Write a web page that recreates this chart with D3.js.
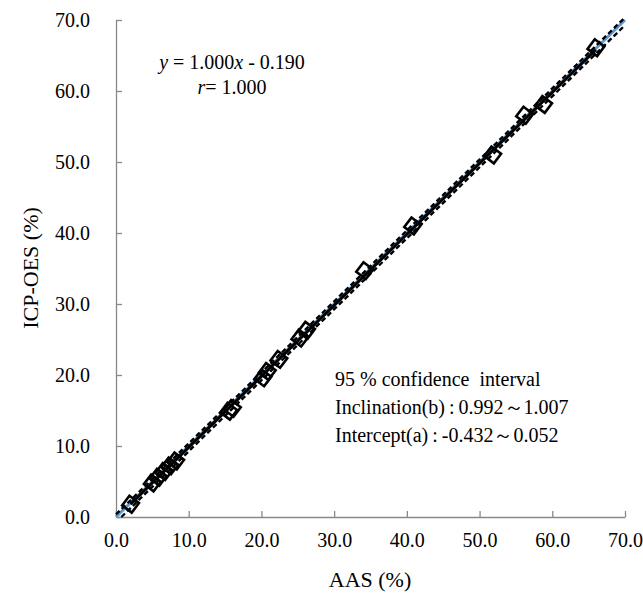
<!DOCTYPE html>
<html><head><meta charset="utf-8">
<script src="https://cdn.jsdelivr.net/npm/d3@7"></script>
<style>
body{margin:0}
svg text, svg tspan{font-family:'Liberation Serif' !important}
</style>
</head><body>
<script>
const aas = [2.0, 5.0, 5.8, 6.6, 7.4, 8.2, 15.5, 16.0, 20.2, 20.8, 22.4, 25.3, 26.2, 34.2, 40.8, 51.8, 56.2, 58.8, 66.0];
const icp = [1.8, 4.8, 5.6, 6.4, 7.2, 7.9, 14.9, 15.3, 19.6, 20.5, 22.2, 25.2, 26.3, 34.7, 41.0, 51.0, 56.6, 58.1, 66.1];
const tickValues = [0, 10, 20, 30, 40, 50, 60, 70];
const slope = 1.000, intercept = -0.190;
const bandOffsets = [-0.55, 0.55];
const annotation = ["95 % confidence  interval", "Inclination(b)\u2009:\u20090.992\uff5e1.007", "Intercept(a)\u2009:\u2009-0.432\uff5e0.052"];

const W = 643, H = 596;
const svg = d3.select("body").append("svg").attr("width", W).attr("height", H).style("display", "block");
const x = d3.scaleLinear().domain([0, 70]).range([116, 625]);
const y = d3.scaleLinear().domain([0, 70]).range([517, 20]);
const axisColor = "#898989";

function T(sel, size) {
  return sel.style("font", size + "px 'Liberation Serif'").attr("fill", "#000");
}

const xa = svg.append("g").attr("transform", `translate(0,${y(0)})`)
  .call(d3.axisBottom(x).tickValues(tickValues).tickSizeInner(-6).tickSizeOuter(0).tickFormat(d => d.toFixed(1)).tickPadding(16));
const ya = svg.append("g").attr("transform", `translate(${x(0)},0)`)
  .call(d3.axisLeft(y).tickValues(tickValues).tickSizeInner(-6).tickSizeOuter(0).tickFormat(d => d.toFixed(1)).tickPadding(26));
[xa, ya].forEach(g => {
  g.attr("font-family", "Liberation Serif").attr("font-size", 20);
  g.select(".domain").attr("stroke", axisColor).attr("stroke-width", 1.3);
  g.selectAll(".tick line").attr("stroke", axisColor).attr("stroke-width", 1.3);
  T(g.selectAll(".tick text"), 20);
});

const line = d3.line().x(d => x(d[0])).y(d => y(d[1]));
svg.append("path").datum([[0, 0], [70, 70]]).attr("d", line)
  .attr("stroke", "#5B9BD5").attr("stroke-width", 3).attr("fill", "none");
bandOffsets.forEach(o => {
  const x0 = Math.max(0, -(intercept + o) / slope);
  svg.append("path").datum([[x0, slope * x0 + intercept + o], [70, slope * 70 + intercept + o]]).attr("d", line)
    .attr("stroke", "#000").attr("stroke-width", 2.4).attr("stroke-dasharray", "5,3").attr("fill", "none");
});
const xmin = d3.min(aas), xmax = d3.max(aas);
svg.append("path").datum([[xmin, slope * xmin + intercept], [xmax, slope * xmax + intercept]]).attr("d", line)
  .attr("stroke", "#000").attr("stroke-width", 3).attr("fill", "none");

const s = 8.5;
svg.append("g").selectAll("path").data(aas.map((v, i) => [v, icp[i]])).join("path")
  .attr("d", `M0,${-s}L${s},0L0,${s}L${-s},0Z`)
  .attr("transform", d => `translate(${x(d[0])},${y(d[1])}) rotate(-8)`)
  .attr("fill", "none").attr("stroke", "#000").attr("stroke-width", 2.6);

const eq = T(svg.append("text"), 20).attr("x", 232).attr("y", 69).attr("text-anchor", "middle");
eq.append("tspan").style("font-style", "italic").text("y");
eq.append("tspan").text(" = 1.000");
eq.append("tspan").style("font-style", "italic").text("x");
eq.append("tspan").text(" - 0.190");
const rt = T(svg.append("text"), 20).attr("x", 232).attr("y", 94).attr("text-anchor", "middle");
rt.append("tspan").style("font-style", "italic").text("r");
rt.append("tspan").text("= 1.000");

annotation.forEach((t, i) => {
  T(svg.append("text"), 20).attr("x", 335).attr("y", 386 + i * 28).style("white-space", "pre").text(t);
});

T(svg.append("text"), 22).attr("x", 370).attr("y", 587).attr("text-anchor", "middle").text("AAS (%)");
T(svg.append("text"), 22).attr("transform", "translate(38,268) rotate(-90)").attr("text-anchor", "middle").text("ICP-OES (%)");
</script>
</body></html>
